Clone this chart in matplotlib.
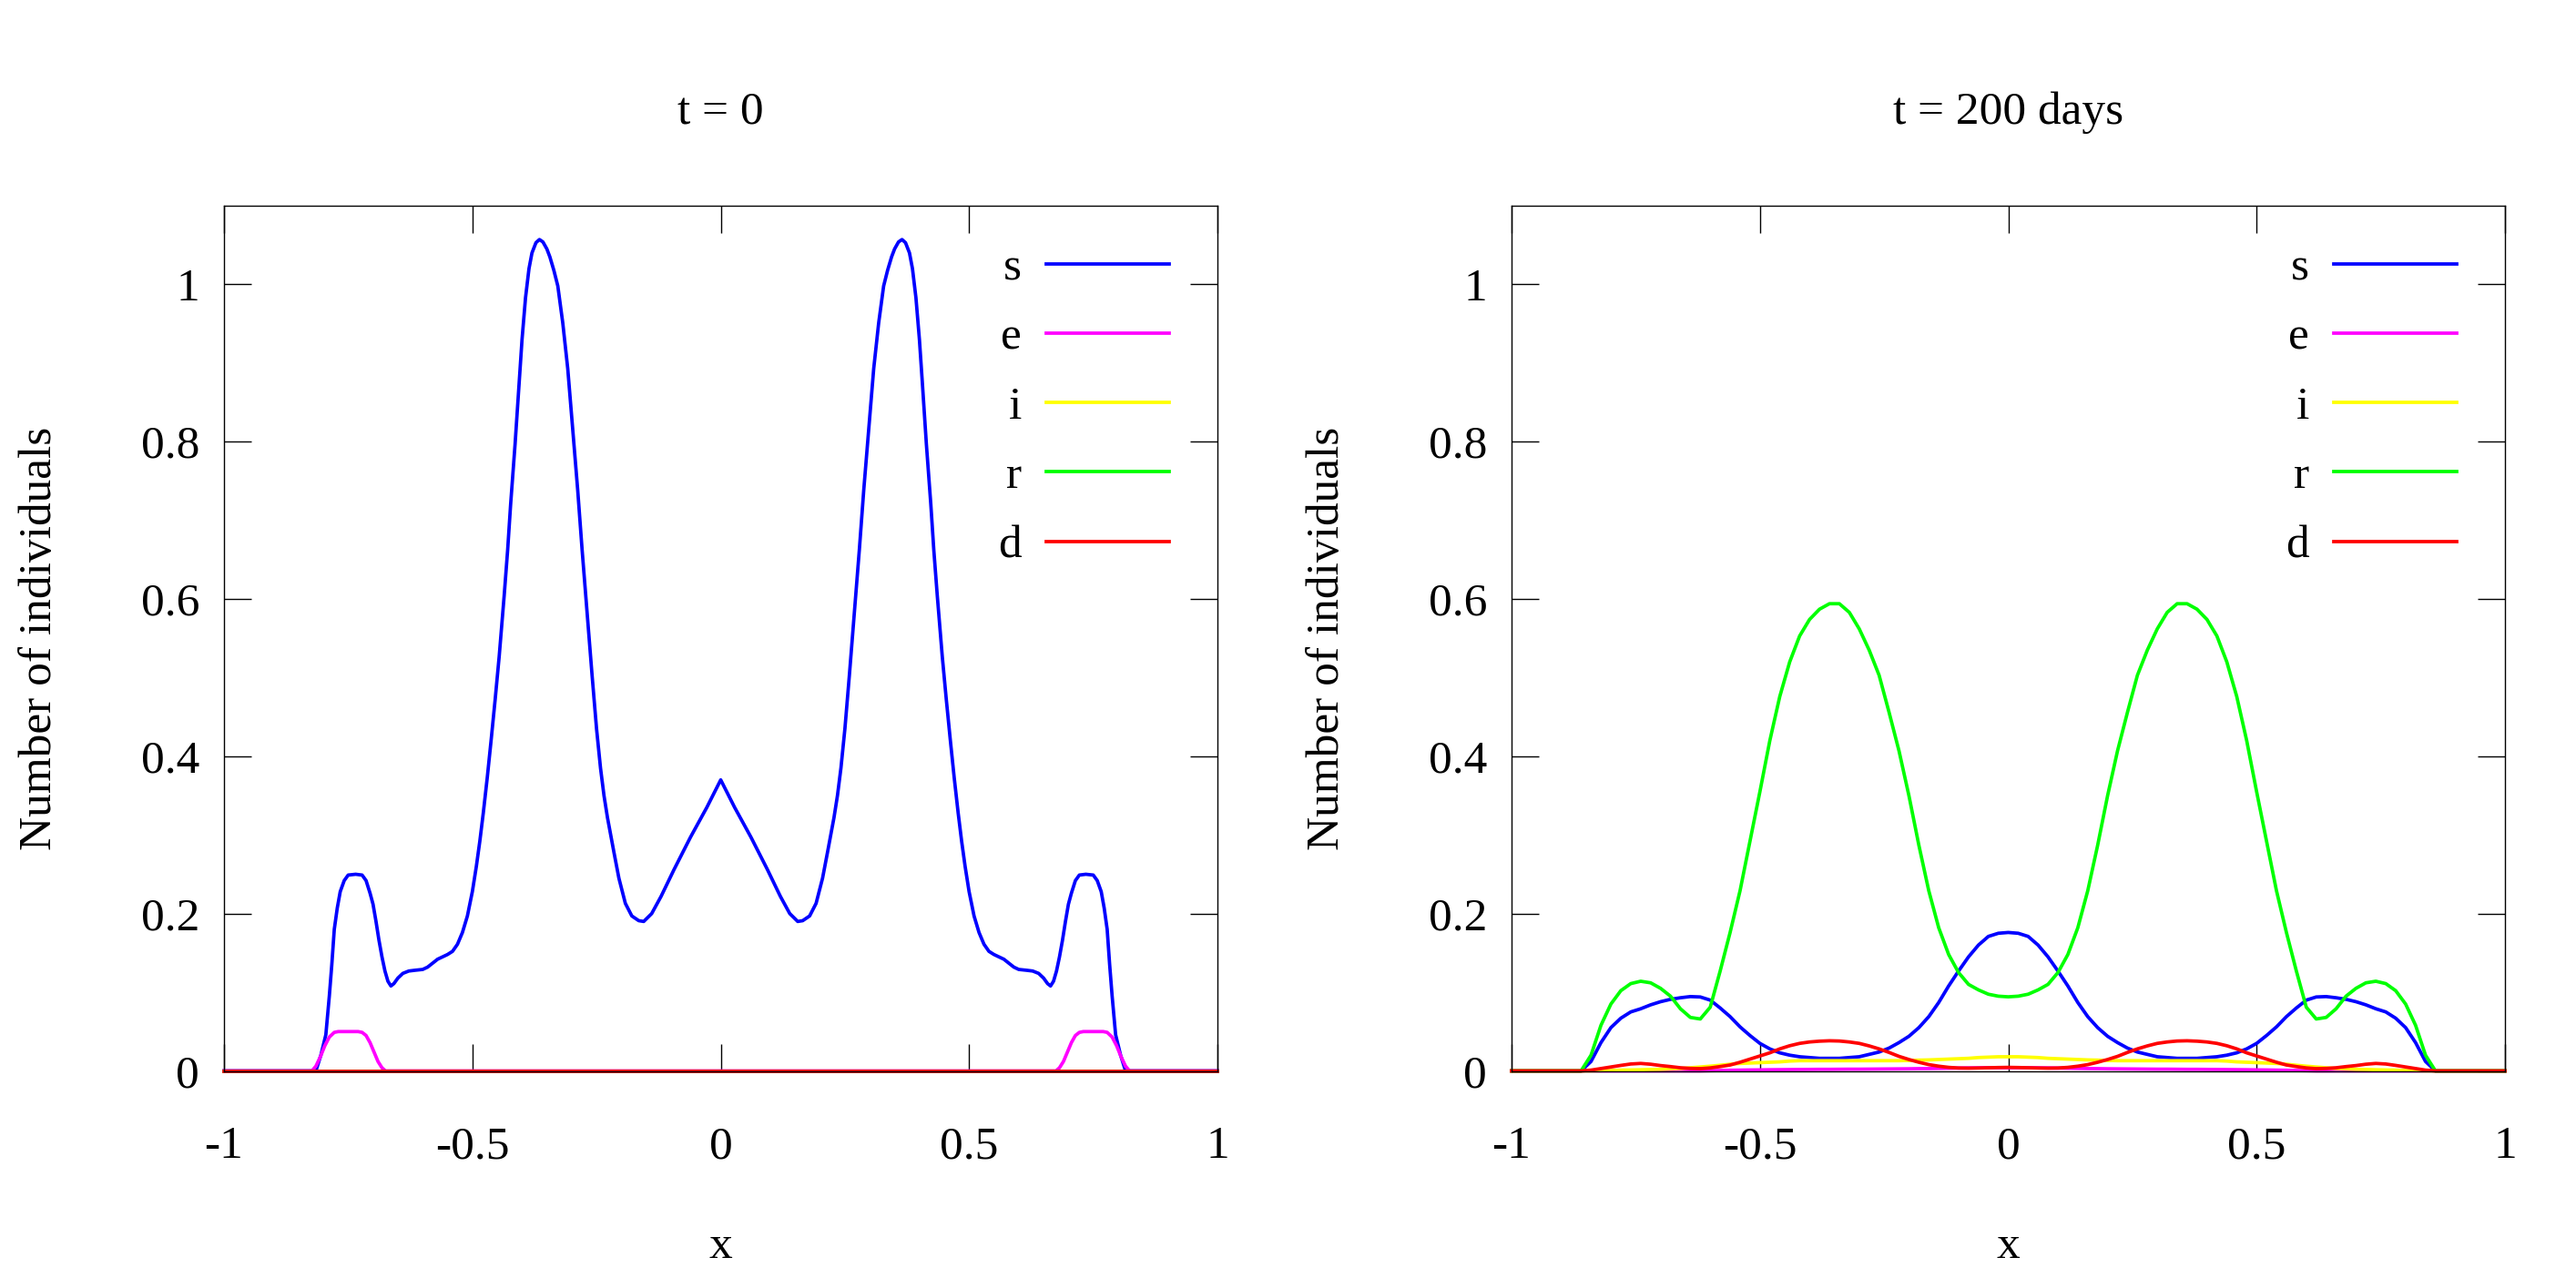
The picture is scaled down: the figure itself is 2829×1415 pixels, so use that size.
import matplotlib
matplotlib.use('Agg')
import matplotlib.pyplot as plt

plt.rcParams['font.family'] = ['Liberation Serif', 'DejaVu Serif']
plt.rcParams['axes.unicode_minus'] = False

# ---------------- data ----------------
series_names = ['s', 'e', 'i', 'r', 'd']
series_colors = ['#0000ff', '#ff00ff', '#ffff00', '#00ff00', '#ff0000']
panel_titles = ['t = 0', 't = 200 days']
x_label = 'x'
y_label = 'Number of individuals'
xticks = [-1, -0.5, 0, 0.5, 1]
xtick_labels = ['-1', '-0.5', '0', '0.5', '1']
yticks = [0, 0.2, 0.4, 0.6, 0.8, 1]
ytick_labels = ['0', '0.2', '0.4', '0.6', '0.8', '1']

# t = 0 : susceptible
x_s0 = [-1.0, -0.815, -0.805, -0.795, -0.788, -0.783, -0.778, -0.772, -0.766, -0.758,
        -0.750, -0.735, -0.722, -0.714, -0.706, -0.700, -0.694, -0.688, -0.682, -0.676,
        -0.670, -0.664, -0.658, -0.650, -0.640, -0.628, -0.615, -0.600, -0.590, -0.580,
        -0.570, -0.560, -0.550, -0.540, -0.530, -0.520, -0.510, -0.500, -0.492, -0.485,
        -0.478, -0.470, -0.462, -0.454, -0.446, -0.436, -0.429, -0.423, -0.414, -0.406,
        -0.400, -0.393, -0.386, -0.380, -0.372, -0.365, -0.358, -0.350, -0.344, -0.336,
        -0.328, -0.318, -0.308, -0.298, -0.288, -0.279, -0.269, -0.259, -0.250, -0.242,
        -0.235, -0.228, -0.215, -0.205, -0.192, -0.179, -0.165, -0.155, -0.139, -0.120,
        -0.094, -0.061, -0.028, 0.0,
        0.028, 0.061, 0.094, 0.120, 0.139, 0.155, 0.165, 0.179, 0.192, 0.205,
        0.215, 0.228, 0.235, 0.242, 0.250, 0.259, 0.269, 0.279, 0.288, 0.298,
        0.308, 0.318, 0.328, 0.336, 0.344, 0.350, 0.358, 0.365, 0.372, 0.380,
        0.386, 0.393, 0.400, 0.406, 0.414, 0.423, 0.429, 0.436, 0.446, 0.454,
        0.462, 0.470, 0.478, 0.485, 0.492, 0.500, 0.510, 0.520, 0.530, 0.540,
        0.550, 0.560, 0.570, 0.580, 0.590, 0.600, 0.615, 0.628, 0.640, 0.650,
        0.658, 0.664, 0.670, 0.676, 0.682, 0.688, 0.694, 0.700, 0.706, 0.714,
        0.722, 0.735, 0.750, 0.758, 0.766, 0.772, 0.778, 0.783, 0.788, 0.795,
        0.805, 0.815, 1.0]
s0 = [0.0, 0.0, 0.02, 0.046, 0.095, 0.135, 0.18, 0.207, 0.228, 0.242,
      0.249, 0.25, 0.249, 0.242, 0.226, 0.212, 0.19, 0.166, 0.145, 0.127,
      0.114, 0.108, 0.111, 0.118, 0.124, 0.127, 0.128, 0.129, 0.132, 0.137,
      0.142, 0.145, 0.148, 0.152, 0.161, 0.176, 0.197, 0.228, 0.26, 0.292,
      0.328, 0.373, 0.422, 0.473, 0.527, 0.604, 0.662, 0.72, 0.797, 0.874,
      0.93, 0.983, 1.02, 1.04, 1.053, 1.057, 1.054, 1.045, 1.035, 1.018,
      0.998, 0.951, 0.893, 0.816, 0.739, 0.662, 0.582, 0.503, 0.435, 0.385,
      0.35, 0.322, 0.278, 0.245, 0.213, 0.197, 0.191, 0.190, 0.200, 0.222,
      0.256, 0.297, 0.335, 0.370,
      0.335, 0.297, 0.256, 0.222, 0.200, 0.190, 0.191, 0.197, 0.213, 0.245,
      0.278, 0.322, 0.35, 0.385, 0.435, 0.503, 0.582, 0.662, 0.739, 0.816,
      0.893, 0.951, 0.998, 1.018, 1.035, 1.045, 1.054, 1.057, 1.053, 1.04,
      1.02, 0.983, 0.93, 0.874, 0.797, 0.72, 0.662, 0.604, 0.527, 0.473,
      0.422, 0.373, 0.328, 0.292, 0.26, 0.228, 0.197, 0.176, 0.161, 0.152,
      0.148, 0.145, 0.142, 0.137, 0.132, 0.129, 0.128, 0.127, 0.124, 0.118,
      0.111, 0.108, 0.114, 0.127, 0.145, 0.166, 0.19, 0.212, 0.226, 0.242,
      0.249, 0.25, 0.249, 0.242, 0.228, 0.207, 0.18, 0.135, 0.095, 0.046,
      0.02, 0.0, 0.0]

# t = 0 : exposed
x_e0 = [-1.0, -0.823, -0.815, -0.806, -0.797, -0.788, -0.778, -0.770, -0.730, -0.722,
        -0.714, -0.706, -0.698, -0.690, -0.682, -0.675,
        0.675, 0.682, 0.690, 0.698, 0.706, 0.714, 0.722, 0.730, 0.770, 0.778,
        0.788, 0.797, 0.806, 0.815, 0.823, 1.0]
e0 = [0.0, 0.0, 0.006, 0.018, 0.032, 0.043, 0.049, 0.050, 0.050, 0.049,
      0.045, 0.036, 0.024, 0.012, 0.004, 0.0,
      0.0, 0.004, 0.012, 0.024, 0.036, 0.045, 0.049, 0.050, 0.050, 0.049,
      0.043, 0.032, 0.018, 0.006, 0.0, 0.0]

# t = 0 : infected, recovered, dead (all zero)
x_zero0 = [-1.0, 1.0]
i0 = [0.0, 0.0]
r0 = [0.0, 0.0]
d0 = [0.0, 0.0]

# t = 200 days
x200 = [-1.0, -0.86, -0.84, -0.82, -0.80, -0.78, -0.76, -0.74, -0.72, -0.70, -0.68,
        -0.66, -0.64, -0.62, -0.60, -0.58, -0.56, -0.54, -0.52, -0.50, -0.48,
        -0.46, -0.44, -0.42, -0.40, -0.38, -0.36, -0.34, -0.32, -0.30, -0.28,
        -0.26, -0.24, -0.22, -0.20, -0.18, -0.16, -0.14, -0.12, -0.10, -0.08,
        -0.06, -0.04, -0.02, 0.0,
        0.02, 0.04, 0.06, 0.08, 0.10, 0.12, 0.14, 0.16, 0.18, 0.20,
        0.22, 0.24, 0.26, 0.28, 0.30, 0.32, 0.34, 0.36, 0.38, 0.40,
        0.42, 0.44, 0.46, 0.48, 0.50, 0.52, 0.54, 0.56, 0.58, 0.60,
        0.62, 0.64, 0.66, 0.68, 0.70, 0.72, 0.74, 0.76, 0.78, 0.80,
        0.82, 0.84, 0.86, 1.0]
s200 = [0.0, 0.0, 0.012, 0.036, 0.055, 0.067, 0.075, 0.079, 0.084, 0.088, 0.091,
        0.093, 0.0945, 0.094, 0.090, 0.080, 0.069, 0.056, 0.045, 0.035, 0.028,
        0.023, 0.020, 0.018, 0.017, 0.016, 0.016, 0.016, 0.017, 0.018, 0.021,
        0.024, 0.029, 0.036, 0.044, 0.055, 0.069, 0.087, 0.108, 0.127, 0.145,
        0.160, 0.171, 0.175, 0.176,
        0.175, 0.171, 0.160, 0.145, 0.127, 0.108, 0.087, 0.069, 0.055, 0.044,
        0.036, 0.029, 0.024, 0.021, 0.018, 0.017, 0.016, 0.016, 0.016, 0.017,
        0.018, 0.020, 0.023, 0.028, 0.035, 0.045, 0.056, 0.069, 0.080, 0.090,
        0.094, 0.0945, 0.093, 0.091, 0.088, 0.084, 0.079, 0.075, 0.067, 0.055,
        0.036, 0.012, 0.0, 0.0]
e200 = [0.0, 0.0, 0.0, 0.0, 0.0, 0.0, 0.0, 0.0, 0.0, 0.0, 0.0,
        0.0, 0.0, 0.0, 0.0003, 0.0005, 0.0008, 0.001, 0.0012, 0.0013, 0.0015,
        0.0016, 0.0017, 0.0018, 0.0019, 0.002, 0.002, 0.0021, 0.0022, 0.0022, 0.0023,
        0.0024, 0.0025, 0.0026, 0.0027, 0.0029, 0.003, 0.0032, 0.0034, 0.0036, 0.0038,
        0.0039, 0.004, 0.004, 0.004,
        0.004, 0.004, 0.0039, 0.0038, 0.0036, 0.0034, 0.0032, 0.003, 0.0029, 0.0027,
        0.0026, 0.0025, 0.0024, 0.0023, 0.0022, 0.0022, 0.0021, 0.002, 0.002, 0.0019,
        0.0018, 0.0017, 0.0016, 0.0015, 0.0013, 0.0012, 0.001, 0.0008, 0.0005, 0.0003,
        0.0, 0.0, 0.0, 0.0, 0.0, 0.0, 0.0, 0.0, 0.0, 0.0,
        0.0, 0.0, 0.0, 0.0]
i200 = [0.0, 0.0, 0.0, 0.0003, 0.0005, 0.001, 0.0012, 0.0015, 0.0018, 0.002, 0.0025,
        0.003, 0.004, 0.005, 0.006, 0.0072, 0.0085, 0.0095, 0.010, 0.0105, 0.011,
        0.0115, 0.0125, 0.013, 0.013, 0.013, 0.013, 0.013, 0.013, 0.013, 0.013,
        0.013, 0.013, 0.013, 0.0133, 0.0137, 0.014, 0.0145, 0.015, 0.0155, 0.016,
        0.017, 0.0175, 0.018, 0.018,
        0.018, 0.0175, 0.017, 0.016, 0.0155, 0.015, 0.0145, 0.014, 0.0137, 0.0133,
        0.013, 0.013, 0.013, 0.013, 0.013, 0.013, 0.013, 0.013, 0.013, 0.013,
        0.013, 0.0125, 0.0115, 0.011, 0.0105, 0.010, 0.0095, 0.0085, 0.0072, 0.006,
        0.005, 0.004, 0.003, 0.0025, 0.002, 0.0018, 0.0015, 0.0012, 0.001, 0.0005,
        0.0003, 0.0, 0.0, 0.0]
r200 = [0.0, 0.0, 0.020, 0.058, 0.085, 0.102, 0.111, 0.114, 0.112, 0.105, 0.095,
        0.079, 0.068, 0.066, 0.081, 0.127, 0.176, 0.229, 0.292, 0.355, 0.420,
        0.476, 0.520, 0.553, 0.574, 0.587, 0.594, 0.594, 0.583, 0.562, 0.535,
        0.503, 0.456, 0.407, 0.350, 0.287, 0.229, 0.182, 0.148, 0.125, 0.110,
        0.103, 0.0975, 0.095, 0.0942,
        0.095, 0.0975, 0.103, 0.110, 0.125, 0.148, 0.182, 0.229, 0.287, 0.350,
        0.407, 0.456, 0.503, 0.535, 0.562, 0.583, 0.594, 0.594, 0.587, 0.574,
        0.553, 0.520, 0.476, 0.420, 0.355, 0.292, 0.229, 0.176, 0.127, 0.081,
        0.066, 0.068, 0.079, 0.095, 0.105, 0.112, 0.114, 0.111, 0.102, 0.085,
        0.058, 0.020, 0.0, 0.0]
d200 = [0.0, 0.0, 0.001, 0.003, 0.005, 0.007, 0.0088, 0.0095, 0.0085, 0.0068, 0.0055,
        0.004, 0.0032, 0.0029, 0.0038, 0.0055, 0.0075, 0.011, 0.015, 0.019, 0.023,
        0.028, 0.032, 0.035, 0.0368, 0.0378, 0.0383, 0.038, 0.0368, 0.035, 0.0318,
        0.028, 0.0235, 0.0185, 0.0145, 0.011, 0.008, 0.006, 0.0045, 0.0037, 0.0035,
        0.0037, 0.004, 0.0043, 0.0045,
        0.0043, 0.004, 0.0037, 0.0035, 0.0037, 0.0045, 0.006, 0.008, 0.011, 0.0145,
        0.0185, 0.0235, 0.028, 0.0318, 0.035, 0.0368, 0.038, 0.0383, 0.0378, 0.0368,
        0.035, 0.032, 0.028, 0.023, 0.019, 0.015, 0.011, 0.0075, 0.0055, 0.0038,
        0.0029, 0.0032, 0.004, 0.0055, 0.0068, 0.0085, 0.0095, 0.0088, 0.007, 0.005,
        0.003, 0.001, 0.0, 0.0]

panel_data = [
    [(x_s0, s0), (x_e0, e0), (x_zero0, i0), (x_zero0, r0), (x_zero0, d0)],
    [(x200, s200), (x200, e200), (x200, i200), (x200, r200), (x200, d200)],
]

# ---------------- drawing ----------------
FS = 37
LW = 2.7
fig = plt.figure(figsize=(28.29, 14.15), dpi=100)
ax_rects = [[0.08696, 0.16855, 0.38565, 0.67173],
            [0.58678, 0.16855, 0.38565, 0.67173]]

for rect, title, data in zip(ax_rects, panel_titles, panel_data):
    ax = fig.add_axes(rect)
    for (xs, ys), name, col in zip(data, series_names, series_colors):
        ax.plot(xs, ys, color=col, lw=LW, label=name, clip_on=False,
                solid_joinstyle='round')
    ax.set_xlim(-1, 1)
    ax.set_ylim(0, 1.1)
    ax.set_xticks(xticks, labels=xtick_labels)
    ax.set_yticks(yticks, labels=ytick_labels)
    ax.tick_params(direction='in', length=21.6, width=1.0, top=True, right=True,
                   labelsize=FS, color='black')
    ax.tick_params(axis='x', pad=43.5)
    ax.tick_params(axis='y', pad=19.5)
    for sp in ax.spines.values():
        sp.set_linewidth(1.0)
        sp.set_color('black')
    ax.set_title(title, fontsize=FS, y=1.0952, pad=0)
    ax.set_xlabel(x_label, fontsize=FS)
    ax.xaxis.set_label_coords(0.5, -0.2035)
    ax.xaxis.label.set_va('center')
    ax.set_ylabel(y_label, fontsize=FS)
    ax.yaxis.set_label_coords(-0.1856, 0.5)
    ax.yaxis.label.set_va('center')
    ax.legend(loc='upper right', bbox_to_anchor=(0.9514, 0.952), frameon=False,
              markerfirst=False, fontsize=FS, handlelength=2.63, handletextpad=0.525,
              labelspacing=0.57, borderpad=0, borderaxespad=0)

fig.savefig('out.png', dpi=100)
